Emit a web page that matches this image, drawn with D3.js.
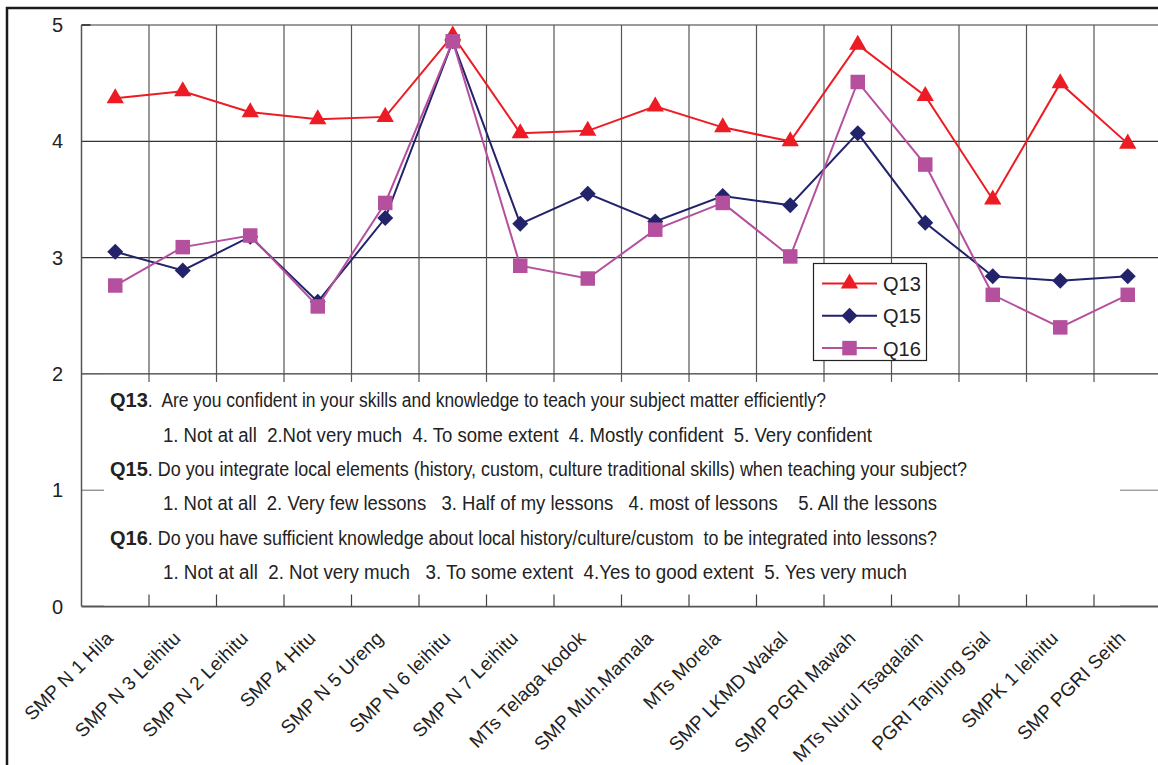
<!DOCTYPE html>
<html><head><meta charset="utf-8">
<script src="https://cdn.jsdelivr.net/npm/d3@7"></script>
<style>html,body{margin:0;padding:0;background:#fff;overflow:hidden}svg{display:block}</style>
</head><body>
<svg id="c" width="1158" height="765"></svg>
<script>
const categories = ["SMP N 1 Hila","SMP N 3 Leihitu","SMP N 2 Leihitu","SMP 4 Hitu","SMP N 5 Ureng","SMP N 6 leihitu","SMP N 7 Leihitu","MTs Telaga kodok","SMP Muh.Mamala","MTs Morela","SMP LKMD Wakal","SMP PGRI Mawah","MTs Nurul Tsaqalain","PGRI Tanjung Sial","SMPK 1 leihitu","SMP PGRI Seith"];
const q13 = [4.37,4.43,4.25,4.19,4.21,4.91,4.07,4.09,4.30,4.12,4.00,4.83,4.39,3.50,4.50,3.98];
const q15 = [3.05,2.89,3.18,2.62,3.34,4.86,3.29,3.55,3.31,3.53,3.45,4.07,3.30,2.84,2.80,2.84];
const q16 = [2.76,3.09,3.19,2.58,3.47,4.86,2.93,2.82,3.24,3.47,3.01,4.51,3.80,2.68,2.40,2.68];
const seriesNames = ["Q13","Q15","Q16"];
const yTicks = [0,1,2,3,4,5];
const noteLines = [
  {b:"Q13", t:".  Are you confident in your skills and knowledge to teach your subject matter efficiently?"},
  {b:"", t:"1. Not at all  2.Not very much  4. To some extent  4. Mostly confident  5. Very confident"},
  {b:"Q15", t:". Do you integrate local elements (history, custom, culture traditional skills) when teaching your subject?"},
  {b:"", t:"1. Not at all  2. Very few lessons   3. Half of my lessons   4. most of lessons    5. All the lessons"},
  {b:"Q16", t:". Do you have sufficient knowledge about local history/culture/custom  to be integrated into lessons?"},
  {b:"", t:"1. Not at all  2. Not very much   3. To some extent  4.Yes to good extent  5. Yes very much"}
];

const svg = d3.select("#c");
const font = "'Liberation Sans', Arial, sans-serif";
const L = 81.5, R = 1161.5;
const x = d3.scaleBand().domain(categories).range([L, R]).padding(0);
const y = d3.scaleLinear().domain([0,5]).range([606.5, 25]);
const cx = c => x(c) + x.bandwidth()/2;

// outer frame
svg.append("rect").attr("x",7).attr("y",8).attr("width",1170).attr("height",780)
  .attr("fill","none").attr("stroke","#1a1a1a").attr("stroke-width",2.5);

const g = svg.append("g");
[2,3,4].forEach(v => g.append("line").attr("x1",L).attr("x2",R).attr("y1",y(v)).attr("y2",y(v)).attr("stroke","#333").attr("stroke-width",1.2));
g.append("line").attr("x1",L).attr("x2",R).attr("y1",y(5)).attr("y2",y(5)).attr("stroke","#9a9a9a").attr("stroke-width",2);
g.append("line").attr("x1",L).attr("x2",104).attr("y1",y(1)).attr("y2",y(1)).attr("stroke","#666").attr("stroke-width",1);
g.append("line").attr("x1",1120).attr("x2",R).attr("y1",y(1)).attr("y2",y(1)).attr("stroke","#777").attr("stroke-width",1);
categories.slice(1).forEach(c => {
  g.append("line").attr("x1",x(c)).attr("x2",x(c)).attr("y1",y(5)).attr("y2",y(2)+8).attr("stroke","#555").attr("stroke-width",1.2);
});
g.append("line").attr("x1",L).attr("x2",L).attr("y1",y(5)).attr("y2",y(0)).attr("stroke","#555").attr("stroke-width",1.5);
g.append("line").attr("x1",L).attr("x2",R).attr("y1",y(0)).attr("y2",y(0)).attr("stroke","#555").attr("stroke-width",2);
g.append("line").attr("x1",L).attr("x2",L+9).attr("y1",y(5)).attr("y2",y(5)).attr("stroke","#444").attr("stroke-width",2);

// y labels
svg.append("g").selectAll("text").data(yTicks).join("text")
  .attr("x",63).attr("y",d=>y(d)+7).attr("text-anchor","end")
  .attr("font-family",font).attr("font-size",20).attr("fill","#222").text(d=>d);

// x labels
svg.append("g").selectAll("text").data(categories).join("text")
  .attr("transform",d=>`translate(${cx(d)-1},${y(0)+33}) rotate(-45)`)
  .attr("text-anchor","end").attr("font-family",font).attr("font-size",19)
  .attr("letter-spacing",0.2).attr("fill","#222").text(d=>d);

// series
const colors = {Q13:"#ed1c24", Q15:"#23236b", Q16:"#b5509f"};
const data = {Q13:q13, Q15:q15, Q16:q16};
const line = d3.line().x((d,i)=>cx(categories[i])).y(d=>y(d));
const symT = d3.symbol().type(d3.symbolTriangle).size(130);
const symD = d3.symbol().type(d3.symbolSquare).size(128);
const symS = d3.symbol().type(d3.symbolSquare).size(210);
seriesNames.forEach(name => {
  const gg = svg.append("g");
  gg.append("path").datum(data[name]).attr("d",line).attr("fill","none")
    .attr("stroke",colors[name]).attr("stroke-width",2);
  gg.selectAll("path.m").data(data[name]).join("path").attr("class","m")
    .attr("d", name==="Q13"?symT():name==="Q15"?symD():symS())
    .attr("transform",(d,i)=>`translate(${cx(categories[i])},${y(d)})`+(name==="Q15"?" rotate(45)":""))
    .attr("fill",colors[name]);
});

// note box
svg.append("rect").attr("x",104).attr("y",y(2)+1).attr("width",1016).attr("height",y(0)-y(2)-2).attr("fill","#fff");
categories.slice(1).forEach(c => {
  svg.append("line").attr("x1",x(c)).attr("x2",x(c)).attr("y1",y(2)).attr("y2",y(2)+8).attr("stroke","#555").attr("stroke-width",1.2);
  svg.append("line").attr("x1",x(c)).attr("x2",x(c)).attr("y1",y(0)-12).attr("y2",y(0)).attr("stroke","#444").attr("stroke-width",1.2);
});
const lineY = [407,442,476,510,545,579];
const lineX = [110,163,110,163,110,163];
const lineEnd = [826,872,967,937,937,907];
const nf = "'Liberation Sans Narrow','Arial Narrow','Liberation Sans',Arial,sans-serif";
noteLines.forEach((ln,i) => {
  let sx = lineX[i];
  if (ln.b) {
    const bt = svg.append("text").attr("x",sx).attr("y",lineY[i]).attr("font-family",nf).attr("font-weight","bold")
      .attr("font-size",20).attr("fill","#222").text(ln.b);
    sx += bt.node().getComputedTextLength();
  }
  svg.append("text").attr("x",sx).attr("y",lineY[i]).attr("font-family",nf).attr("font-size",20).attr("fill","#222")
    .attr("textLength",lineEnd[i]-sx).attr("lengthAdjust","spacingAndGlyphs").style("white-space","pre").text(ln.t);
});

// legend
const lg = svg.append("g");
lg.append("rect").attr("x",813.5).attr("y",263.5).attr("width",113).attr("height",97).attr("fill","#fff").attr("stroke","#222").attr("stroke-width",1.2);
seriesNames.forEach((name,i) => {
  const ly = 283.5 + i*32.3;
  lg.append("line").attr("x1",822).attr("x2",877).attr("y1",ly).attr("y2",ly).attr("stroke",colors[name]).attr("stroke-width",2);
  lg.append("path").attr("d", name==="Q13"?symT():name==="Q15"?symD():symS())
    .attr("transform",`translate(849.5,${ly})`+(name==="Q15"?" rotate(45)":"")).attr("fill",colors[name]);
  lg.append("text").attr("x",883).attr("y",ly+7.5).attr("font-family",font).attr("font-size",20).attr("fill","#222").text(name);
});
</script>
</body></html>
